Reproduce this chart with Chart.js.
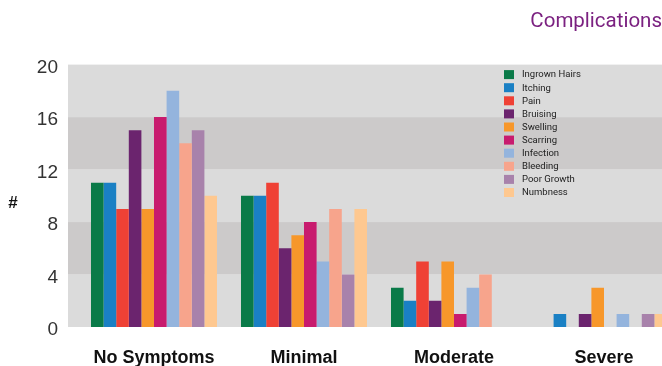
<!DOCTYPE html>
<html>
<head>
<meta charset="utf-8">
<style>
  html, body { margin: 0; padding: 0; background: #ffffff; }
  #wrap { width: 662px; height: 366px; position: relative; }
</style>
<script src="https://cdn.jsdelivr.net/npm/chart.js@4/dist/chart.umd.min.js"></script>
</head>
<body>
<div id="wrap"><canvas id="chart" width="662" height="366"></canvas></div>
<script>
// Severity groups along the bottom axis
const groups = ['No Symptoms', 'Minimal', 'Moderate', 'Severe'];

// Complication series and their colours
const complications = ['Ingrown Hairs', 'Itching', 'Pain', 'Bruising', 'Swelling',
  'Scarring', 'Infection', 'Bleeding', 'Poor Growth', 'Numbness'];
const colors = ['#0a7a48', '#1a80c4', '#ef4135', '#6b246e', '#f7972a',
  '#c81b6e', '#94b4dd', '#f7a48c', '#a882ab', '#fec890'];

// Counts per complication, one value per group
const ingrownHairs = [11, 10, 3, 0];
const itching      = [11, 10, 2, 1];
const pain         = [9, 11, 5, 0];
const bruising     = [15, 6, 2, 1];
const swelling     = [9, 7, 5, 3];
const scarring     = [16, 8, 1, 0];
const infection    = [18, 5, 3, 1];
const bleeding     = [14, 9, 4, 0];
const poorGrowth   = [15, 4, 0, 1];
const numbness     = [10, 9, 0, 1];

// Vertical axis ticks
const yTicks = [0, 4, 8, 12, 16, 20];

const seriesValues = [ingrownHairs, itching, pain, bruising, swelling,
  scarring, infection, bleeding, poorGrowth, numbness];

const SANS = 'Roboto, "Liberation Sans", sans-serif';
const REGULAR = '"Liberation Sans", Arial, sans-serif';

// Alternating horizontal bands behind the bars, one per tick interval
const bandPlugin = {
  id: 'bands',
  beforeDraw(chart) {
    const { ctx, chartArea } = chart;
    const y = chart.scales.y;
    ctx.save();
    for (let i = 0; i < yTicks.length - 1; i++) {
      const top = y.getPixelForValue(yTicks[i + 1]);
      const bottom = y.getPixelForValue(yTicks[i]);
      ctx.fillStyle = (i % 2 === 0) ? '#dbdbdb' : '#cccaca';
      ctx.fillRect(chartArea.left, top, chartArea.right - chartArea.left, bottom - top);
    }
    ctx.restore();
  }
};

// Legend list inside the plot, plus the unrotated "#" axis caption
const overlayPlugin = {
  id: 'overlay',
  afterDraw(chart) {
    const { ctx, chartArea } = chart;
    ctx.save();
    const x0 = chartArea.left + 436;
    const y0 = chartArea.top + 10;
    const step = 13.1;
    ctx.font = '9.5px ' + SANS;
    ctx.textBaseline = 'middle';
    ctx.textAlign = 'left';
    chart.data.datasets.forEach((ds, i) => {
      const cy = y0 + i * step;
      ctx.fillStyle = ds.backgroundColor;
      ctx.fillRect(x0, cy - 4.5, 10, 9);
      ctx.fillStyle = '#222222';
      ctx.fillText(ds.label, x0 + 18, cy + 0.5);
    });
    ctx.font = 'bold 17px ' + REGULAR;
    ctx.fillStyle = '#111111';
    ctx.textAlign = 'center';
    ctx.fillText('#', 13, 203);
    ctx.restore();
  }
};

const datasets = complications.map((name, i) => ({
  label: name,
  data: seriesValues[i].map((v, g) => ({ x: g, y: v })),
  backgroundColor: colors[i],
  borderWidth: 0,
  categoryPercentage: 0.84,
  barPercentage: 1.0
}));

new Chart(document.getElementById('chart'), {
  type: 'bar',
  data: { datasets },
  plugins: [bandPlugin, overlayPlugin],
  options: {
    responsive: false,
    animation: false,
    layout: { padding: { left: 0, right: 0, top: 0, bottom: 0 } },
    plugins: {
      legend: { display: false },
      tooltip: { enabled: false },
      title: {
        display: true,
        text: 'Complications',
        align: 'end',
        color: '#7b2180',
        font: { family: SANS, size: 20.5, weight: 'normal' },
        padding: { top: 10, bottom: 30 }
      }
    },
    scales: {
      x: {
        type: 'linear',
        offset: false,
        min: -0.5733,
        max: 3.3867,
        grid: { display: false, drawTicks: false },
        border: { display: false },
        afterBuildTicks(scale) {
          scale.ticks = groups.map((_, i) => ({ value: i }));
        },
        afterFit(scale) { scale.height = 39; },
        ticks: {
          autoSkip: false,
          maxRotation: 0,
          padding: 20,
          color: '#111111',
          font: { family: REGULAR, size: 18, weight: 'bold' },
          callback: (v) => groups[v]
        }
      },
      y: {
        min: 0,
        max: 20,
        grid: { display: false, drawTicks: false },
        border: { display: false },
        afterFit(scale) { scale.width = 68; },
        afterBuildTicks(scale) {
          scale.ticks = yTicks.map(v => ({ value: v }));
        },
        ticks: {
          padding: 10,
          labelOffset: 3,
          color: '#333333',
          font: { family: REGULAR, size: 19, weight: 'normal' }
        }
      }
    }
  }
});
</script>
</body>
</html>
